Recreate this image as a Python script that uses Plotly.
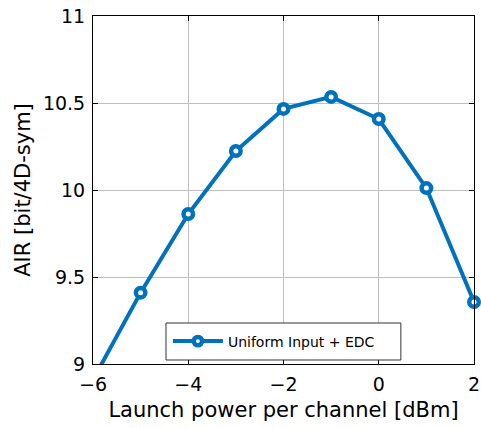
import plotly.graph_objects as go

# Launch power sweep and achievable information rate
launch_power_dbm = [-6, -5, -4, -3, -2, -1, 0, 1, 2]
air_bits = [8.91, 9.41, 9.862, 10.224, 10.466, 10.535, 10.408, 10.011, 9.356]

x_range = [-6, 2]
y_range = [9, 11]
blue = "#0072BD"

# hide markers that fall outside the visible axis range
marker_sizes = [0 if (v < y_range[0] or v > y_range[1]) else 9.5 for v in air_bits]

font_family = "DejaVu Sans, Liberation Sans, sans-serif"

fig = go.Figure()
fig.add_trace(go.Scatter(
    x=launch_power_dbm,
    y=air_bits,
    mode="lines+markers",
    name="Uniform Input + EDC",
    line=dict(color=blue, width=4),
    marker=dict(symbol="circle", size=marker_sizes, color="white", opacity=1,
                line=dict(color=blue, width=4.5)),
    cliponaxis=False,
))

axis_common = dict(
    showline=True, linecolor="black", linewidth=1, mirror="ticks",
    ticks="inside", ticklen=5, tickcolor="black",
    showgrid=True, gridcolor="#bfbfbf", gridwidth=1,
    zeroline=False, automargin=False,
    tickfont=dict(family=font_family, size=19, color="black"),
    title_font=dict(family=font_family, size=21, color="black"),
)

fig.update_xaxes(range=x_range, tickvals=[-6, -4, -2, 0, 2],
                 title_text="Launch power per channel [dBm]",
                 title_standoff=8, ticklabelstandoff=3, **axis_common)
fig.update_yaxes(range=y_range, tickvals=[9, 9.5, 10, 10.5, 11],
                 title_text="AIR [bit/4D-sym]",
                 title_standoff=6, ticklabelstandoff=3, **axis_common)

# legend frame (paper coordinates)
box_x0, box_x1 = 0.1916, 0.808
box_y0, box_y1 = 0.0115, 0.1178
fig.add_shape(type="rect", xref="paper", yref="paper",
              x0=box_x0, x1=box_x1, y0=box_y0, y1=box_y1,
              fillcolor="white", line=dict(color="#333333", width=1),
              layer="above")

fig.update_layout(
    width=481, height=428,
    margin=dict(l=93, r=7, t=16, b=64),
    plot_bgcolor="white", paper_bgcolor="white",
    showlegend=True,
    legend=dict(
        x=box_x0 + 0.005, y=(box_y0 + box_y1) / 2,
        xanchor="left", yanchor="middle",
        bgcolor="rgba(0,0,0,0)", borderwidth=0,
        font=dict(family=font_family, size=14, color="black"),
        itemwidth=50,
    ),
)

fig.write_html("out.html")
